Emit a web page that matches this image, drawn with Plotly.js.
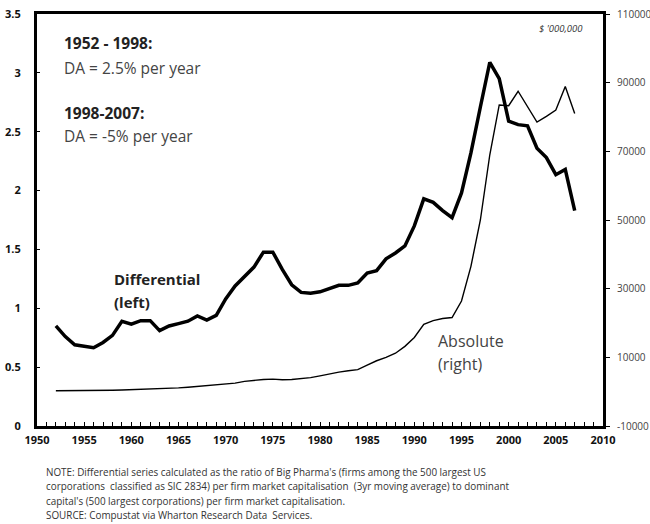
<!DOCTYPE html>
<html><head><meta charset="utf-8">
<script src="https://cdn.plot.ly/plotly-3.0.1.min.js"></script>
<style>body{margin:0;background:#fff}#chart{width:650px;height:524px}</style>
</head><body><div id="chart"></div>
<script>
const years = [1952,1953,1954,1955,1956,1957,1958,1959,1960,1961,1962,1963,1964,1965,1966,1967,1968,1969,1970,1971,1972,1973,1974,1975,1976,1977,1978,1979,1980,1981,1982,1983,1984,1985,1986,1987,1988,1989,1990,1991,1992,1993,1994,1995,1996,1997,1998,1999,2000,2001,2002,2003,2004,2005,2006,2007];
const differential = [0.85,0.76,0.69,0.68,0.665,0.71,0.77,0.89,0.865,0.895,0.895,0.81,0.85,0.87,0.89,0.935,0.9,0.94,1.08,1.19,1.27,1.35,1.477,1.477,1.33,1.2,1.135,1.127,1.14,1.165,1.195,1.195,1.215,1.3,1.32,1.42,1.47,1.53,1.7,1.93,1.9,1.83,1.77,1.98,2.32,2.71,3.09,2.95,2.59,2.56,2.55,2.36,2.28,2.135,2.18,1.83];
const absolute = [250,250,260,280,300,350,420,500,580,650,720,800,950,1100,1300,1550,1700,1900,2150,2500,3000,3370,3550,3650,3450,3550,3800,4100,4600,5200,5700,6100,6400,7700,9000,10000,11200,13200,15800,19600,20700,21300,21600,26400,36500,50000,69000,83500,83300,87500,83000,78500,80200,82000,88900,81000];
const rightTickVals = [-10000,10000,30000,50000,70000,90000,110000];
const rightTickText = ["-10000","10000","30000","50000","70000","90000","110000"];
const noteLines = [
  "NOTE: Differential series calculated as the ratio of Big Pharma's (firms among the 500 largest US",
  "corporations  classified as SIC 2834) per firm market capitalisation  (3yr moving average) to dominant",
  "capital's (500 largest corporations) per firm market capitalisation.",
  "SOURCE: Compustat via Wharton Research Data  Services."
];

const F = "Open Sans, Arial, sans-serif";
const traces = [
  {x: years, y: differential, type: 'scatter', mode: 'lines', line: {color: '#000', width: 3.5}, yaxis: 'y', hoverinfo: 'skip'},
  {x: years, y: absolute, type: 'scatter', mode: 'lines', line: {color: '#000', width: 1.4}, yaxis: 'y2', hoverinfo: 'skip'}
];

const ann = [];
function txt(x, y, t, size, bold) {
  ann.push({x: x, y: y, xref: 'x', yref: 'y', text: t, showarrow: false, xanchor: 'left', yanchor: 'middle',
    font: {family: F, size: size, color: bold ? '#222' : '#444', weight: bold ? 'bold' : 'normal'}});
}
txt(1952.6, 3.254, "1952 - 1998:", 15.5, true);
txt(1952.6, 3.042, "DA = 2.5% per year", 15.5, false);
txt(1952.6, 2.661, "1998-2007:", 15.5, true);
txt(1952.6, 2.466, "DA = -5% per year", 15.5, false);
txt(1957.9, 1.246, "Differential", 15, true);
txt(1957.9, 1.051, "(left)", 15, true);
txt(1992.3, 0.72, "Absolute", 16, false);
txt(1992.3, 0.525, "(right)", 16, false);
ann.push({x: 2008.1, y: 3.373, xref: 'x', yref: 'y', text: "$ '000,000", showarrow: false, xanchor: 'right', yanchor: 'middle',
  font: {family: F, size: 9.5, color: '#333', style: 'italic'}});
const noteY = [472, 486.5, 501, 515];
noteLines.forEach(function (t, i) {
  ann.push({x: (44 - 37) / 566, y: (426 - noteY[i]) / 412, xref: 'paper', yref: 'paper', text: t, showarrow: false,
    xanchor: 'left', yanchor: 'middle', font: {family: F, size: 9.9, color: '#333'}});
});

const layout = {
  width: 650, height: 524,
  margin: {l: 37, r: 47, t: 14, b: 98},
  paper_bgcolor: '#fff', plot_bgcolor: '#fff',
  showlegend: false,
  xaxis: {range: [1950, 2010], dtick: 5, tick0: 1950, showgrid: false, zeroline: false,
    showline: true, linewidth: 3, linecolor: '#000', mirror: true,
    ticks: 'inside', ticklen: 4, tickwidth: 1, tickcolor: '#000',
    minor: {dtick: 1, ticks: 'inside', ticklen: 4, tickwidth: 1, tickcolor: '#000'},
    tickfont: {family: F, size: 11, color: '#111', weight: 'bold'}, ticklabelstandoff: 2},
  yaxis: {range: [0, 3.5], dtick: 0.5, tick0: 0, showgrid: false, zeroline: false,
    showline: true, linewidth: 3, linecolor: '#000',
    ticks: 'inside', ticklen: 3, tickwidth: 1, tickcolor: '#000',
    tickfont: {family: F, size: 11, color: '#111', weight: 'bold'}, ticklabelstandoff: 11},
  yaxis2: {range: [-10000, 110000], tickmode: 'array', tickvals: rightTickVals, ticktext: rightTickText,
    overlaying: 'y', side: 'right',
    showgrid: false, zeroline: false, showline: true, linewidth: 3, linecolor: '#000',
    ticks: 'outside', ticklen: 4, tickwidth: 1, tickcolor: '#000',
    tickfont: {family: F, size: 10, color: '#444'}, ticklabelstandoff: 5},
  annotations: ann
};
Plotly.newPlot('chart', traces, layout, {displayModeBar: false, staticPlot: true});
</script></body></html>
